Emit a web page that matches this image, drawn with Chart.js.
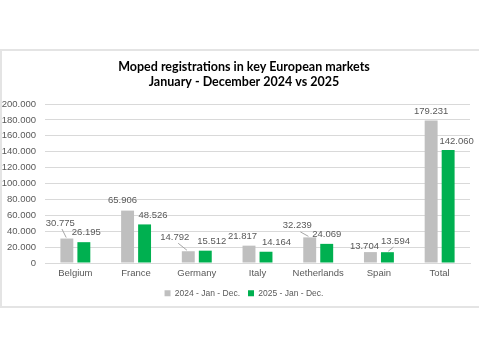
<!DOCTYPE html>
<html>
<head>
<meta charset="utf-8">
<script src="https://cdn.jsdelivr.net/npm/chart.js@4"></script>
<style>
  html, body { margin: 0; padding: 0; background: #fff; overflow: hidden; }
  #frame {
    position: absolute; left: 0; top: 49px; width: 490px; height: 259px;
    box-sizing: border-box; border: 2px solid #e4e4e4;
  }
  #wrap { position: absolute; left: 0; top: 0; width: 488px; height: 359px; }
</style>
</head>
<body>
<div id="frame"></div>
<div id="wrap"><canvas id="myChart"></canvas></div>
<script>
const categories = ['Belgium', 'France', 'Germany', 'Italy', 'Netherlands', 'Spain', 'Total']
const reg2024 = [30775, 65906, 14792, 21817, 32239, 13704, 179231]
const reg2025 = [26195, 48526, 15512, 14164, 24069, 13594, 142060]
const seriesNames = ['2024 - Jan - Dec.', '2025 - Jan - Dec.']
const titleLines = ['Moped registrations in key European markets', 'January - December 2024 vs 2025']
const yMin = 0
const yMax = 200000
const yStep = 20000

function fmt (v) {
  return String(v).replace(/\B(?=(\d{3})+(?!\d))/g, '.')
}

// label placement like the excel original: [dx, dy, leader line]
const labelOffsets = [
  [[-6.5, -15.5, 1], [-5, -10.5], [-13.5, -14, 1], [-6.5, -9], [-12.5, -11.5, 1], [-6, -6], [0, -9.5]],
  [[2.5, -10], [8.5, -9.5], [6.5, -9.5], [10.5, -9.5], [0, -9], [8, -11, 1], [8.5, -9]]
]

const valueLabels = {
  id: 'valueLabels',
  afterDatasetsDraw(chart) {
    const ctx = chart.ctx
    ctx.save()
    ctx.font = '9.5px "Liberation Sans"'
    ctx.textAlign = 'center'
    ctx.textBaseline = 'middle'
    chart.data.datasets.forEach((ds, i) => {
      chart.getDatasetMeta(i).data.forEach((bar, j) => {
        const off = labelOffsets[i][j]
        const x = bar.x + off[0]
        const y = bar.y + off[1]
        ctx.fillStyle = '#595959'
        ctx.fillText(fmt(ds.data[j]), x, y)
        if (off[2]) {
          ctx.strokeStyle = '#a6a6a6'
          ctx.lineWidth = 1
          ctx.beginPath()
          ctx.moveTo(x + (bar.x - x) * 0.25, y + 6)
          ctx.lineTo(bar.x - (bar.x - x) * 0.1, bar.y - 1)
          ctx.stroke()
        }
      })
    })
    ctx.restore()
  }
}

// two line title, centred on the frame (not on the plot area)
const frameTitle = {
  id: 'frameTitle',
  afterDraw(chart) {
    const ctx = chart.ctx
    ctx.save()
    ctx.font = 'bold 12.5px Lato'
    ctx.fillStyle = '#000'
    ctx.textAlign = 'center'
    ctx.textBaseline = 'middle'
    titleLines.forEach((t, i) => ctx.fillText(t, chart.width / 2, 67 + i * 15))
    ctx.restore()
  }
}

Chart.defaults.font.family = '"Liberation Sans", Arial, sans-serif'
Chart.defaults.font.size = 9.5
Chart.defaults.color = '#595959'

const ctx = document.getElementById('myChart')

const config = {
  type: 'bar',
  data: {
    labels: categories,
    datasets: [{
      label: seriesNames[0],
      data: reg2024,
      backgroundColor: '#bfbfbf',
      categoryPercentage: 0.56,
      barPercentage: 0.76
    }, {
      label: seriesNames[1],
      data: reg2025,
      backgroundColor: '#00b050',
      categoryPercentage: 0.56,
      barPercentage: 0.76
    }]
  },
  options: {
    responsive: true,
    maintainAspectRatio: false,
    animation: false,
    layout: { padding: { left: 0, right: 0, top: 104, bottom: 51.5 } },
    plugins: {
      title: { display: false },
      legend: {
        position: 'bottom',
        labels: {
          boxWidth: 6,
          boxHeight: 6,
          padding: 8,
          color: '#595959',
          font: { size: 8.5 }
        }
      },
      tooltip: { enabled: false }
    },
    scales: {
      x: {
        afterFit: s => { s.height = 18 },
        grid: { display: false, drawTicks: false },
        border: { display: true, color: '#d9d9d9' },
        ticks: { padding: 6, color: '#595959', font: { lineHeight: 1 } }
      },
      y: {
        min: yMin,
        max: yMax,
        afterFit: s => { s.width = 45 },
        grid: { color: '#d9d9d9', drawTicks: false },
        border: { display: false },
        ticks: {
          stepSize: yStep,
          padding: 9,
          color: '#595959',
          callback: v => fmt(v)
        }
      },
      // empty right axis, only keeps the plot area off the right edge
      yPad: {
        position: 'right',
        afterFit: s => { s.width = 18 },
        grid: { display: false, drawTicks: false },
        border: { display: false },
        ticks: { display: false }
      }
    }
  },
  plugins: [valueLabels, frameTitle]
}

const chart = new Chart(ctx, config)
</script>
</body>
</html>
